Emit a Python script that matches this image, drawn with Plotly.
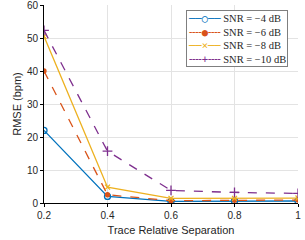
import plotly.graph_objects as go

separation = [0.2, 0.4, 0.6, 0.8, 1.0]
rmse_m4 = [22.0, 2.0, 0.5, 0.6, 0.6]
rmse_m6 = [40.0, 2.5, 0.7, 0.8, 0.9]
rmse_m8 = [50.5, 4.8, 1.4, 1.4, 1.5]
rmse_m10 = [52.3, 15.7, 3.8, 3.2, 2.9]
names = ["SNR = \u22124 dB", "SNR = \u22126 dB", "SNR = \u22128 dB", "SNR = \u221210 dB"]
colors = ["#0072BD", "#D95319", "#EDB120", "#7E2F8E"]
legend_glyphs = ["\u2500\u2500\u25cb\u2500\u2500", "\u254c\u254c\u25cf\u254c\u254c",
                 "\u2500\u2500\u00d7\u2500\u2500", "\u254c\u254c+\u254c\u254c"]

fig = go.Figure()
specs = [
    (rmse_m4, "solid", "circle-open", 6),
    (rmse_m6, "dash", "circle", 4),
    (rmse_m8, "solid", "x-thin-open", 5),
    (rmse_m10, "dash", "cross-thin-open", 7),
]
for (vals, dash, sym, sz), name, c in zip(specs, names, colors):
    fig.add_trace(go.Scatter(
        x=separation, y=vals, name=name, mode="lines+markers", showlegend=False,
        line=dict(color=c, width=1.3, dash=dash),
        marker=dict(symbol=sym, size=sz, color=c, line=dict(color=c, width=1.3)),
    ))

legend_lines = []
for g, name, c in zip(legend_glyphs, names, colors):
    legend_lines.append(
        f"<span style='font-family:DejaVu Sans Mono;color:{c}'>{g}</span> {name}")
fig.add_annotation(
    xref="paper", yref="paper", x=0.96, y=0.975, xanchor="right", yanchor="top",
    text="<br>".join(legend_lines), align="left", showarrow=False,
    font=dict(family="Liberation Serif, DejaVu Serif", size=10.5, color="#262626"),
    bgcolor="white", bordercolor="#7f7f7f", borderwidth=1, borderpad=1,
)

axis_common = dict(
    showline=True, linecolor="black", linewidth=1, ticks="outside", ticklen=3,
    tickcolor="black", showgrid=True, gridcolor="#e3e3e3", gridwidth=1,
    zeroline=False, mirror=False, automargin=False, ticklabeloverflow="allow",
    tickfont=dict(family="Liberation Sans, Arial", size=10, color="#262626"),
)
fig.update_xaxes(range=[0.2, 1.0], tickvals=[0.2, 0.4, 0.6, 0.8, 1.0],
                 ticktext=["0.2", "0.4", "0.6", "0.8", "1"],
                 title=dict(text="Trace Relative Separation", standoff=6,
                            font=dict(family="Liberation Sans, Arial", size=11, color="#262626")),
                 **axis_common)
fig.update_yaxes(range=[0, 60], tickvals=[0, 10, 20, 30, 40, 50, 60],
                 title=dict(text="RMSE (bpm)", standoff=3,
                            font=dict(family="Liberation Sans, Arial", size=11, color="#262626")),
                 **axis_common)
fig.update_layout(
    width=305, height=240,
    margin=dict(l=44, r=7, t=5, b=37),
    paper_bgcolor="white", plot_bgcolor="white",
)
fig.write_html("out.html", config={"displayModeBar": False},
               post_script="document.body.style.margin='0';document.body.style.overflow='hidden';")
